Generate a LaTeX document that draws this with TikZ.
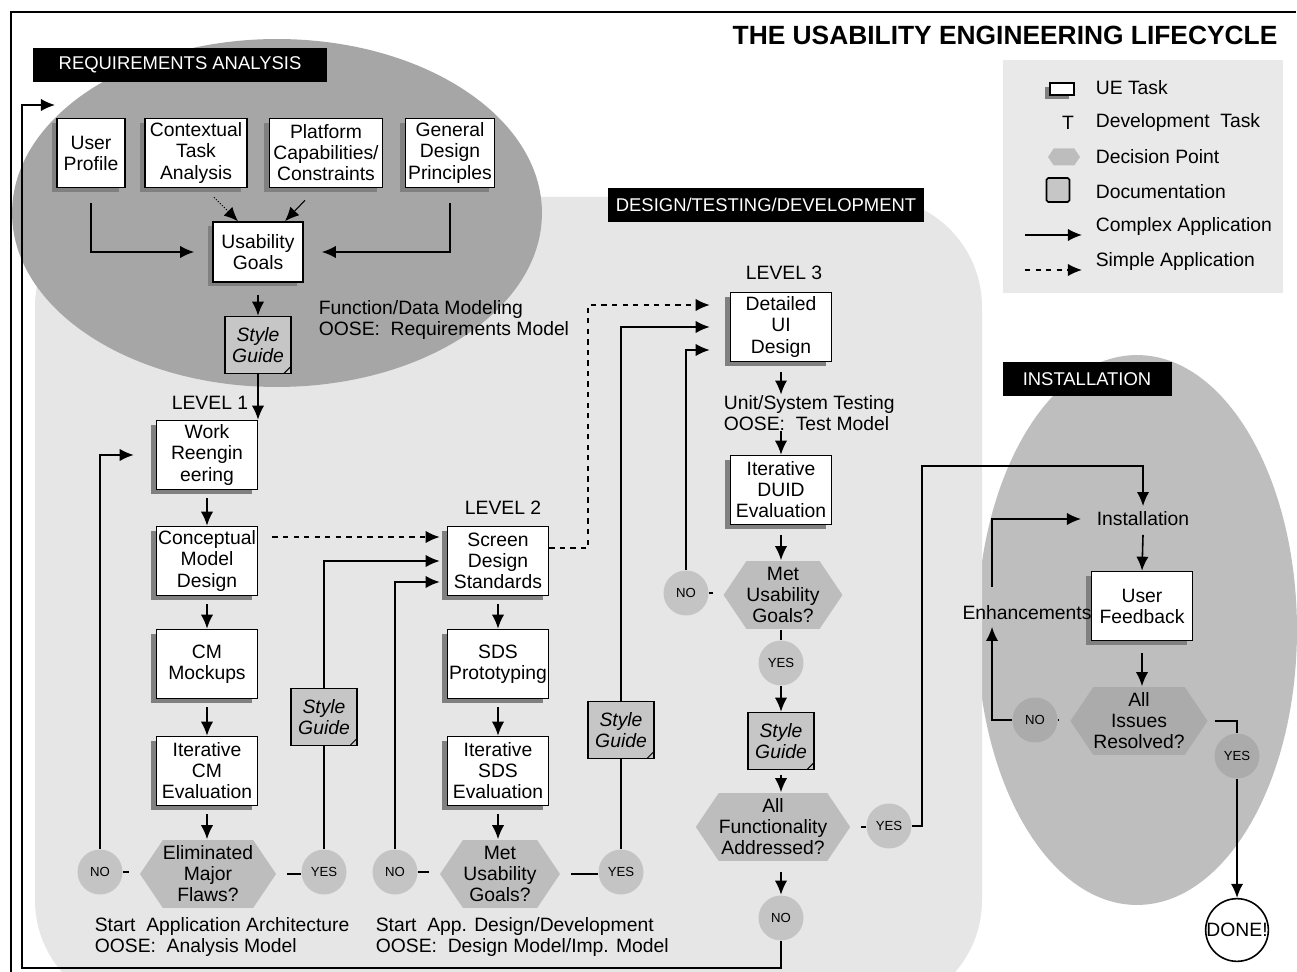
\documentclass[tikz,border=0pt]{standalone}
\usepackage{fontspec}
\setmainfont{Liberation Sans}
\usetikzlibrary{arrows.meta,shapes.symbols,shadows}

\definecolor{reqgrey}{HTML}{A6A6A6}
\definecolor{devgrey}{HTML}{E6E6E6}
\definecolor{instgrey}{HTML}{BEBEBE}
\definecolor{decgrey}{HTML}{BDBDBD}
\definecolor{ansgrey}{HTML}{C4C4C4}
\definecolor{instdec}{HTML}{ABABAB}
\definecolor{docgrey}{HTML}{C6C6C6}
\definecolor{shadegrey}{HTML}{808080}
\definecolor{keygrey}{HTML}{E9E9E9}

\newcommand{\taskfont}{\fontsize{11}{12}\selectfont}
\newcommand{\ansfont}{\fontsize{7.5}{8}\selectfont}
\newcommand{\tagfont}{\fontsize{10.5}{12}\selectfont}

\tikzset{
  uetask/.style={draw, fill=white, minimum width=2.02cm, minimum height=1.38cm,
    inner sep=1pt, align=center, font=\taskfont,
    drop shadow={shadow xshift=-0.11cm, shadow yshift=-0.09cm, fill=shadegrey, opacity=1}},
  doc/.style={draw, fill=docgrey, minimum width=1.32cm, minimum height=1.14cm,
    inner sep=1pt, align=center, font=\taskfont\itshape,
    path picture={\draw[line width=0.6pt] ([xshift=-0.14cm]path picture bounding box.south east)
      -- ([yshift=0.14cm]path picture bounding box.south east);}},
  decision/.style={signal, signal to=west and east, signal pointer angle=112,
    fill=decgrey, minimum width=2.5cm, minimum height=1.36cm, inner sep=0pt,
    align=center, font=\taskfont},
  answer/.style={circle, fill=ansgrey, minimum size=0.9cm, inner sep=0pt, font=\ansfont},
  donecircle/.style={circle, draw, fill=white, minimum size=1.2cm, inner sep=0pt, font=\taskfont},
  tag/.style={fill=black, text=white, font=\tagfont, minimum height=0.68cm, inner sep=0pt},
  note/.style={anchor=west, align=left, font=\taskfont, inner sep=0pt},
  level/.style={font=\taskfont, inner sep=0pt}
}

\begin{document}
\begin{tikzpicture}[x=0.02cm, y=-0.02cm, line width=0.9pt, >={Latex[length=8pt,width=7pt]}]
\useasboundingbox (0,0) rectangle (1297,972);
\fill[white] (0,0) rectangle (1297,972);

% regions
\fill[instgrey] (1137,630) ellipse [x radius=3.2cm, y radius=5.5cm];
\fill[devgrey, rounded corners=2.2cm] (35,197) -- (982,197) -- (982,1010) -- (35,1010) -- cycle;
\fill[reqgrey] (277,213) ellipse [x radius=5.3cm, y radius=3.48cm];
\fill[keygrey] (1003,60) rectangle (1283,293);
\draw[line width=0.8pt] (1296,12) -- (11,12) -- (11,972);

\node[font=\bfseries\fontsize{15}{16}\selectfont, inner sep=0pt] (title) at (1005,35) {THE USABILITY ENGINEERING LIFECYCLE};
\node[tag, minimum width=5.88cm] (reqtag) at (180,65) {REQUIREMENTS ANALYSIS};
\node[tag, minimum width=6.34cm] (devtag) at (766,205) {DESIGN/TESTING/DEVELOPMENT};
\node[tag, minimum width=3.38cm] (insttag) at (1087,379) {INSTALLATION};

% requirements analysis
\node[uetask, minimum width=1.36cm] (prof) at (91,153) {User\\Profile};
\node[uetask, minimum width=2.04cm] (ctx) at (196,153) {Contextual\\Task\\Analysis};
\node[uetask, minimum width=2.26cm] (plat) at (326,153) {Platform\\Capabilities/\\Constraints};
\node[uetask, minimum width=1.78cm] (gdp) at (450,153) {General\\Design\\Principles};
\node[uetask, minimum width=1.8cm, minimum height=1.2cm] (ugoal) at (258,252) {Usability\\Goals};
\node[doc] (sg0) at (258,345) {Style\\Guide};
\node[note] (fdm) at (318,320) {Function/Data Modeling\\OOSE:\ \ Requirements Model};

% level 1
\node[level] (lev1) at (210,403) {LEVEL 1};
\node[uetask] (work) at (207,455) {Work\\Reengin\\eering};
\node[uetask] (cmd) at (207,561) {Conceptual\\Model\\Design};
\node[uetask] (cmm) at (207,664) {CM\\Mockups};
\node[uetask] (icm) at (207,771) {Iterative\\CM\\Evaluation};
\node[decision, minimum width=2.54cm] (flaws) at (208,874) {Eliminated\\Major\\Flaws?};
\node[answer] (no1) at (100,872) {NO};
\node[answer] (yes1) at (324,872) {YES};
\node[doc] (sg1) at (324,717) {Style\\Guide};
\node[note] (arch) at (94,937) {Start\ \ Application Architecture\\OOSE:\ \ Analysis Model};

% level 2
\node[level] (lev2) at (503,508) {LEVEL 2};
\node[uetask] (sds) at (498,561) {Screen\\Design\\Standards};
\node[uetask] (sdsp) at (498,664) {SDS\\Prototyping};
\node[uetask] (isds) at (498,771) {Iterative\\SDS\\Evaluation};
\node[decision, minimum width=2.4cm] (met2) at (500,874) {Met\\Usability\\Goals?};
\node[answer] (no2) at (395,872) {NO};
\node[answer] (yes2) at (621,872) {YES};
\node[doc] (sg2) at (621,730) {Style\\Guide};
\node[note] (appdev) at (375,937) {Start\ \ App. Design/Development\\OOSE:\ \ Design Model/Imp. Model};

% level 3
\node[level] (lev3) at (784,273) {LEVEL 3};
\node[uetask] (dui) at (781,327) {Detailed\\UI\\Design};
\node[note] (test) at (723,413) {Unit/System Testing\\OOSE:\ \ Test Model};
\node[uetask] (iduid) at (781,490) {Iterative\\DUID\\Evaluation};
\node[decision, minimum width=2.36cm] (met3) at (783,595) {Met\\Usability\\Goals?};
\node[answer] (no3) at (686,593) {NO};
\node[answer] (yes3) at (781,663) {YES};
\node[doc] (sg3) at (781,741) {Style\\Guide};
\node[decision, minimum width=2.86cm] (func) at (773,827) {All\\Functionality\\Addressed?};
\node[answer] (yes4) at (889,826) {YES};
\node[answer] (no4) at (781,918) {NO};

% installation
\node[level] (inst) at (1143,519) {Installation};
\node[uetask] (fb) at (1142,606) {User\\Feedback};
\node[level] (enh) at (1027,613) {Enhancements};
\node[decision, fill=instdec, minimum width=2.7cm] (issues) at (1139,721) {All\\Issues\\Resolved?};
\node[answer, fill=instdec] (no5) at (1035,720) {NO};
\node[answer, fill=instdec] (yes5) at (1237,756) {YES};
\node[donecircle] (done) at (1237,930) {DONE!};

% legend
\node[uetask, minimum width=0.48cm, minimum height=0.24cm, inner sep=0pt] (keytask) at (1062,89) {};
\node[level, anchor=west] (keytasklbl) at (1095,88) {UE Task};
\node[level] (keydev) at (1068,123) {T};
\node[level, anchor=west] (keydevlbl) at (1095,123) {Development\ \ Task};
\node[decision, minimum width=0.64cm, minimum height=0.34cm] (keydec) at (1064,157) {};
\node[level, anchor=west] (keydeclbl) at (1095,157) {Decision Point};
\node[draw, fill=docgrey, minimum width=0.46cm, minimum height=0.48cm, inner sep=0pt,
  rounded corners=1pt] (keydoc) at (1058,190) {};
\node[level, anchor=west] (keydoclbl) at (1095,192) {Documentation};
\coordinate (keyc1) at (1025,235);
\coordinate (keyc2) at (1082,235);
\node[level, anchor=west] (keyclbl) at (1095,227) {Complex Application};
\coordinate (keys1) at (1025,270);
\coordinate (keys2) at (1082,270);
\node[level, anchor=west] (keyslbl) at (1095,262) {Simple Application};
\draw[->] (keyc1) -- (keyc2);
\draw[->, dashed] (keys1) -- (keys2);

% requirements arrows
\draw[->] ([yshift=-0.3cm]prof.south) |- ([xshift=-0.36cm]ugoal.west);
\draw[->] ([yshift=-0.3cm]gdp.south) |- ([xshift=0.36cm]ugoal.east);
\draw[->, densely dotted, line width=0.6pt] ([xshift=0.36cm,yshift=-0.18cm]ctx.south) -- ([xshift=-0.4cm]ugoal.north);
\draw[->, line width=0.6pt] ([xshift=-0.42cm,yshift=-0.24cm]plat.south) -- ([xshift=0.54cm]ugoal.north);
\draw[->] ([yshift=-0.24cm]ugoal.south) -- (sg0.north);
\draw[->] (sg0.south) -- (sg0.south |- work.north);

% level 1 arrows
\foreach \a/\b in {work/cmd, cmd/cmm, cmm/icm, icm/flaws}
  \draw[->] ([yshift=-0.16cm]\a.south) -- (\a.south |- \b.north);
\draw[shorten >=0.2cm] (no1.east) -- (no1.east -| flaws.west);
\draw[shorten <=0.2cm] (flaws.east) -- (flaws.east -| yes1.west);
\draw[->] (no1.north) |- ([xshift=-0.44cm]work.west);
\draw (yes1.north) -- (sg1.south);
\draw[->] (sg1.north) |- ([xshift=-0.14cm]sds.west);
\draw[->, dashed] ([xshift=0.28cm,yshift=0.48cm]cmd.east) -- ([xshift=-0.14cm,yshift=0.48cm]sds.west);

% level 2 arrows
\foreach \a/\b in {sds/sdsp, sdsp/isds, isds/met2}
  \draw[->] ([yshift=-0.16cm]\a.south) -- (\a.south |- \b.north);
\draw[shorten >=0.2cm] (no2.east) -- (no2.east -| met2.west);
\draw[shorten <=0.2cm] (met2.east) -- (met2.east -| yes2.west);
\draw[->] (no2.north) |- ([xshift=-0.14cm,yshift=-0.42cm]sds.west);
\draw (yes2.north) -- (sg2.south);
\draw[->] (sg2.north) |- ([xshift=-0.4cm]dui.west);
\draw[->, dashed] ([yshift=0.26cm]sds.east) -- ++(0.78cm,0) |- ([xshift=-0.4cm,yshift=0.44cm]dui.west);

% level 3 arrows
\draw[->] ([yshift=-0.2cm]dui.south) -- (dui.south |- test.north);
\draw[->] (dui.south |- test.south) -- (iduid.north);
\draw[->] ([yshift=-0.2cm]iduid.south) -- (iduid.south |- met3.north);
\draw (iduid.south |- met3.south) -- (yes3.north);
\draw[->] (yes3.south) -- (sg3.north);
\draw[->] ([yshift=-0.1cm]sg3.south) -- (sg3.south |- func.north);
\draw[->] ([yshift=-0.2cm]no4.north |- func.south) -- (no4.north);
\draw[shorten >=0.2cm] (no3.east) -- (no3.east -| met3.west);
\draw[->] (no3.north) |- ([xshift=-0.4cm,yshift=-0.46cm]dui.west);
\draw[shorten <=0.2cm] (func.east) -- (func.east -| yes4.west);
\coordinate (toinst) at (922,466);
\draw[->] (yes4.east) -| (toinst) -| ([yshift=0.1cm]inst.north);
\coordinate (back1) at (22,968);
\coordinate (back2) at (55,105);
\draw[->] (no4.south) |- (back1) |- (back2);

% installation
\draw[->] ([yshift=-0.16cm]inst.south) -- (fb.north);
\draw[->] ([yshift=-0.24cm]fb.south) -- (fb.south |- issues.north);
\draw[shorten >=0.2cm] (no5.east) -- (no5.east -| issues.west);
\draw[->] (no5.west) -| ([xshift=-0.7cm,yshift=-0.12cm]enh.south);
\draw[->] ([xshift=-0.7cm,yshift=0.36cm]enh.north) |- ([xshift=-0.3cm]inst.west);
\draw ([xshift=0.12cm]issues.east) -| (yes5.north);
\draw[->] (yes5.south) -- (done.north);
\end{tikzpicture}
\end{document}
